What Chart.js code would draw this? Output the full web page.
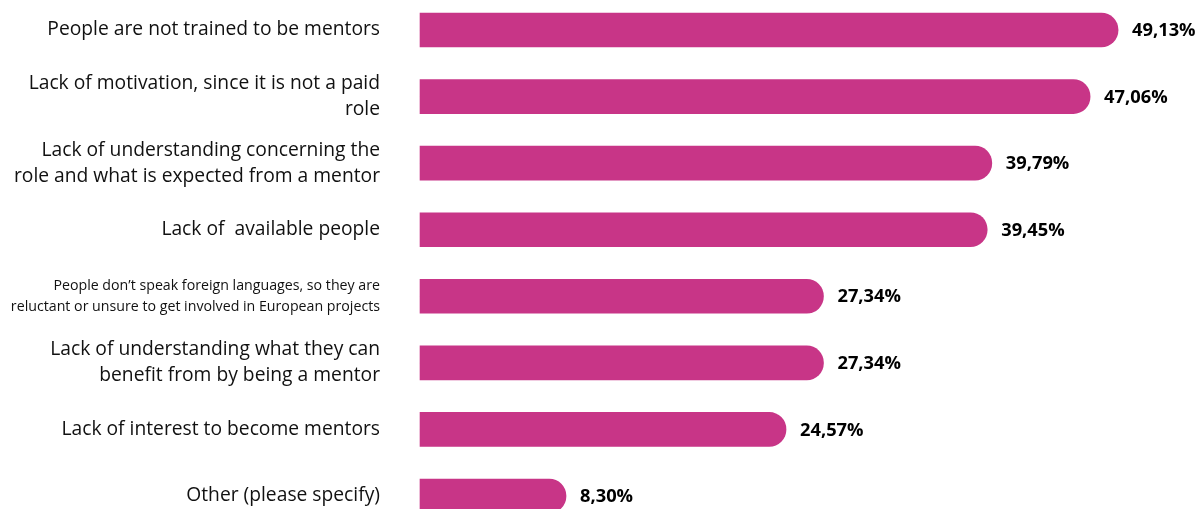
<!DOCTYPE html>
<html>
<head>
<meta charset="utf-8">
<script src="https://cdn.jsdelivr.net/npm/chart.js@4/dist/chart.umd.min.js"></script>
<style>
html,body{margin:0;padding:0;background:#fff;}
#wrap{width:1198px;height:509px;position:relative;}
</style>
</head>
<body>
<div id="wrap"><canvas id="c"></canvas></div>
<script>
const categories = [
  "People are not trained to be mentors",
  ["Lack of motivation, since it is not a paid", "role"],
  ["Lack of understanding concerning the", "role and what is expected from a mentor"],
  "Lack of  available people",
  ["People don\u2019t speak foreign languages, so they are", "reluctant or unsure to get involved in European projects"],
  ["Lack of understanding what they can", "benefit from by being a mentor"],
  "Lack of interest to become mentors",
  "Other (please specify)"
];
const values = [49.13, 47.06, 39.79, 39.45, 27.34, 27.34, 24.57, 8.30];
const barColor = "#C83587";

const valueLabels = {
  id: "valueLabels",
  afterDatasetsDraw(chart) {
    const ctx = chart.ctx;
    const meta = chart.getDatasetMeta(0);
    ctx.save();
    ctx.font = "bold 18.3px 'Open Sans'";
    ctx.fillStyle = "#000";
    ctx.textAlign = "left";
    ctx.textBaseline = "middle";
    meta.data.forEach((el, i) => {
      const v = chart.data.datasets[0].data[i];
      ctx.fillText(v.toFixed(2).replace(".", ",") + "%", el.x + 14, el.y + 1);
    });
    ctx.restore();
  }
};

new Chart(document.getElementById("c"), {
  type: "bar",
  data: {
    labels: categories,
    datasets: [{
      data: values,
      backgroundColor: barColor,
      borderRadius: 17,
      borderSkipped: "start",
      barThickness: 34,
      base: -2.5,
      clip: false
    }]
  },
  options: {
    indexAxis: "y",
    responsive: true,
    maintainAspectRatio: false,
    animation: false,
    layout: { padding: { top: 30, bottom: 13, left: 0, right: 0 } },
    plugins: { legend: { display: false }, tooltip: { enabled: false } },
    scales: {
      x: { display: false, min: -2.5, max: 55.04 },
      y: {
        offset: false,
        grid: { display: false, drawTicks: false },
        border: { display: false },
        ticks: {
          padding: 40,
          color: "#111",
          autoSkip: false,
          font: (c) => c.index === 4
            ? { family: "'Open Sans'", size: 14.2, lineHeight: 1.5 }
            : { family: "'Open Sans'", size: 19.25, lineHeight: 1.36 }
        },
        afterFit(scale) {
          scale.width = 420;
          scale.paddingTop = 0;
          scale.paddingBottom = 0;
        }
      }
    }
  },
  plugins: [valueLabels]
});
</script>
</body>
</html>
